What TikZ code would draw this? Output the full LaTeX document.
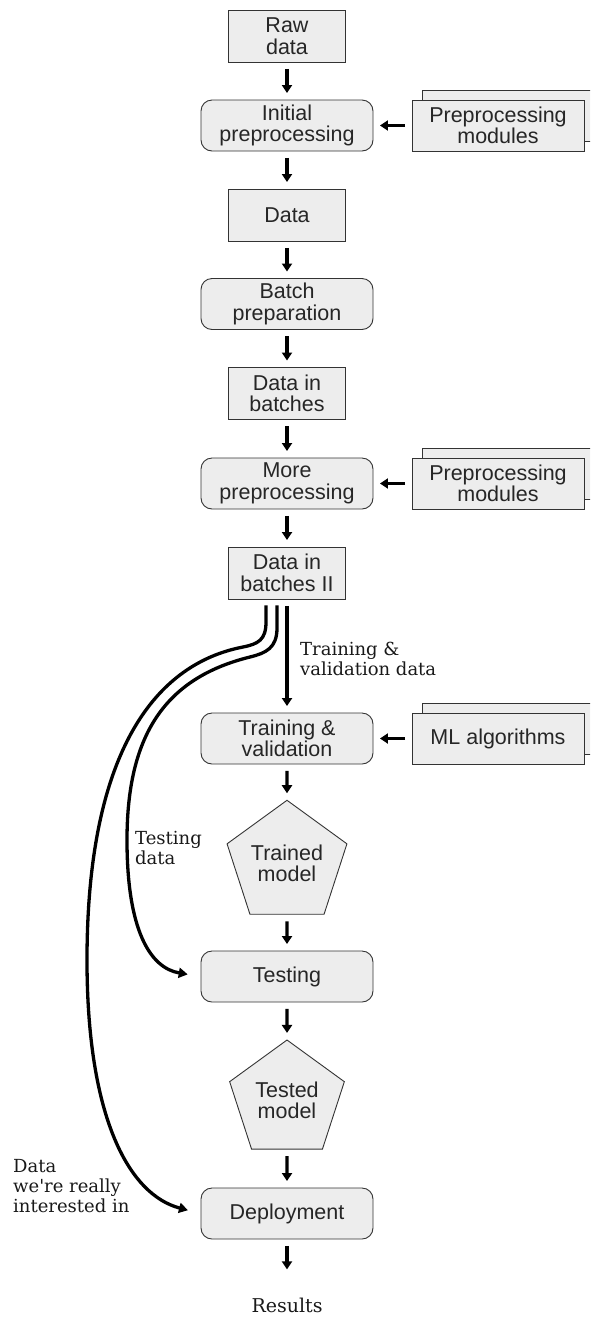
\documentclass[tikz,border=0pt]{standalone}
\usepackage{fontspec}
\setmainfont{DejaVu Serif}
\newfontfamily\boxfont{Liberation Sans}
\usetikzlibrary{shapes.geometric,arrows.meta}
\definecolor{boxfill}{HTML}{EDEDED}
\definecolor{boxline}{HTML}{333333}
\begin{document}
\begin{tikzpicture}[x=1pt,y=-1pt,
  base/.style={draw=boxline,fill=boxfill,line width=0.9pt,inner sep=0pt,
    font=\boxfont\fontsize{21.5}{21.5}\selectfont,align=center,text=black!85},
  databox/.style={base,rectangle,minimum width=117pt,minimum height=52pt},
  procbox/.style={base,rectangle,rounded corners=11pt,minimum width=172pt,minimum height=51pt},
  toolbox/.style={base,rectangle,minimum width=172pt,minimum height=51pt},
  modelbox/.style={base,regular polygon,regular polygon sides=5,minimum size=120.6pt},
  flow/.style={line width=3.4pt,-{Triangle[width=10pt,length=8pt]},shorten <=6.5pt,shorten >=6.5pt},
  curvearrow/.style={line width=3.3pt,-{Triangle[width=10pt,length=9pt]},shorten >=13pt},
  lbl/.style={font=\fontsize{18}{20}\selectfont,align=left,inner sep=0pt,text=black!90}
]
\clip (0,0) rectangle (590,1318);
\useasboundingbox (0,0) rectangle (590,1318);

% nodes
\node[databox] (raw) at (287,36) {Raw\\data};
\node[procbox] (init) at (287,125.5) {Initial\\preprocessing};
\node[toolbox] (pmAb) at (508,115.5) {};
\node[toolbox] (pmA) at (498,125.5) {Preprocessing\\modules};
\node[databox] (data) at (287,215) {Data};
\node[procbox] (batch) at (287,304) {Batch\\preparation};
\node[databox] (dib) at (287,393.5) {Data in\\batches};
\node[procbox] (more) at (287,483.5) {More\\preprocessing};
\node[toolbox] (pmBb) at (508,473.5) {};
\node[toolbox] (pmB) at (498,483.5) {Preprocessing\\modules};
\node[databox] (dibii) at (287,573) {Data in\\batches II};
\node[procbox] (train) at (287,738.5) {Training \&\\validation};
\node[toolbox] (mlb) at (508,728.5) {};
\node[toolbox] (ml) at (498,738.5) {ML algorithms};
\node[modelbox] (trained) at (287,863.3) {Trained\\model};
\node[procbox] (test) at (287,976.5) {Testing};
\node[modelbox] (tested) at (287,1100.3) {Tested\\model};
\node[procbox] (deploy) at (287,1213.5) {Deployment};
\node[lbl,anchor=base,font=\fontsize{19}{20}\selectfont] (results) at (287,1312) {Results};

% labels
\node[lbl,anchor=north west] (ltrain) at (300,641.5) {Training \&\\validation data};
\node[lbl,anchor=north west] (ltest) at (135,831.5) {Testing\\data};
\node[lbl,anchor=north west] (ldeploy) at (13,1159.5) {Data\\we\textquotesingle re really\\interested in};

% straight connectors
\draw[flow] (raw) -- (init);
\draw[flow] (pmA) -- (init);
\draw[flow] (init) -- (data);
\draw[flow] (data) -- (batch);
\draw[flow] (batch) -- (dib);
\draw[flow] (dib) -- (more);
\draw[flow] (pmB) -- (more);
\draw[flow] (more) -- (dibii);
\draw[flow] (dibii) -- (train);
\draw[flow] (ml) -- (train);
\draw[flow] (train) -- (trained);
\draw[flow] (trained) -- (test);
\draw[flow] (test) -- (tested);
\draw[flow] (tested) -- (deploy);
\draw[flow,shorten >=28pt] (deploy.south) -- (results.north);

% curved connectors
\draw[curvearrow] ([xshift=-10pt,yshift=-6pt]dibii.south) -- (277,628)
  .. controls (277,648) and (266,653) .. (250,657)
  .. controls (165,678) and (127,735) .. (127,840)
  .. controls (127,930) and (150,968) .. (test.west);
\draw[curvearrow] ([xshift=-21pt,yshift=-6pt]dibii.south) -- (266,622)
  .. controls (266,640) and (258,644) .. (243,647)
  .. controls (150,665) and (87,760) .. (87,960)
  .. controls (87,1120) and (130,1195) .. (deploy.west);
\end{tikzpicture}
\end{document}
